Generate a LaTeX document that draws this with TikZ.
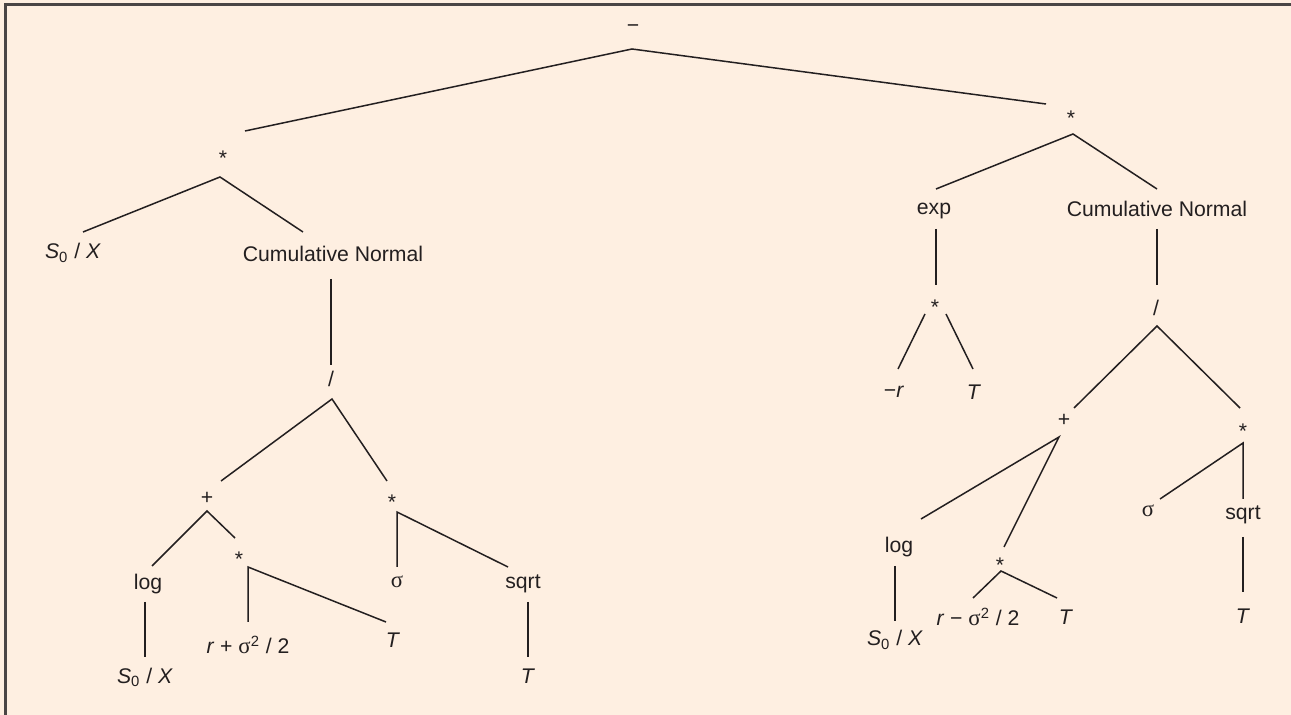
\documentclass[tikz,border=0pt]{standalone}
\usepackage{fontspec}
\setmainfont{Liberation Sans}
\newfontfamily\sigfont{Liberation Serif}
\definecolor{paper}{HTML}{FEEFE1}
\definecolor{ink}{HTML}{231F20}
\definecolor{framecol}{HTML}{4A4545}
\newcommand{\sig}{{\sigfont\fontsize{11.4}{12}\selectfont σ}}
\newcommand{\sox}{\textit{S}\textsubscript{0} / \textit{X}}

\begin{document}
\begin{tikzpicture}[x=0.5pt,y=-0.5pt,
  lbl/.style={anchor=base,inner sep=0pt,text=ink,font=\fontsize{10.6}{12}\selectfont},
  edge/.style={draw=ink,line width=0.75pt}]

% paper and frame rules
\fill[paper] (0,0) rectangle (1291,715);
\useasboundingbox (0,0) rectangle (1291,715);
\draw[framecol,line width=1.1pt] (5.5,715) -- (5.5,4.5) -- (1291,4.5);

% ---------- labels ----------
\node[lbl] (root)  at (633,33)  {−};
\node[lbl] (mulR)  at (1071,126) {*};
\node[lbl] (mulL)  at (223,166) {*};
% left subtree
\node[lbl] (s0xL)  at (73,259)  {\sox};
\node[lbl] (cnL)   at (333,262) {Cumulative Normal};
\node[lbl] (divL)  at (331,387) {/};
\node[lbl] (plusL) at (207,505) {+};
\node[lbl] (mulL2) at (392,510) {*};
\node[lbl] (mulL3) at (239,567) {*};
\node[lbl] (logL)  at (148,590) {log};
\node[lbl] (sigL)  at (397,588) {\sig};
\node[lbl] (sqrtL) at (523,589) {sqrt};
\node[lbl] (rpL)   at (248,654) {\textit{r} + \sig\textsuperscript{2} / 2};
\node[lbl] (tL1)   at (393,648) {\textit{T}};
\node[lbl] (tL2)   at (528,683) {\textit{T}};
\node[lbl] (s0xL2) at (145,683) {\sox};
% right subtree
\node[lbl] (expR)  at (934,215)  {exp};
\node[lbl] (cnR)   at (1157,217) {Cumulative Normal};
\node[lbl] (mulR2) at (935,315)  {*};
\node[lbl] (divR)  at (1156,316) {/};
\node[lbl] (negr)  at (894,398)  {−\textit{r}};
\node[lbl] (tR1)   at (974,400)  {\textit{T}};
\node[lbl] (plusR) at (1064,427) {+};
\node[lbl] (mulR3) at (1243,439) {*};
\node[lbl] (logR)  at (899,553)  {log};
\node[lbl] (mulR4) at (1000,573) {*};
\node[lbl] (sigR)  at (1148,517) {\sig};
\node[lbl] (sqrtR) at (1243,520) {sqrt};
\node[lbl] (rmR)   at (978,626)  {\textit{r} − \sig\textsuperscript{2} / 2};
\node[lbl] (tR2)   at (1066,625) {\textit{T}};
\node[lbl] (tR3)   at (1243,624) {\textit{T}};
\node[lbl] (s0xR)  at (895,646)  {\sox};

% ---------- connector ends ----------
\coordinate (root-dn)  at (632,49);
\coordinate (mulL-up)  at (245,131);
\coordinate (mulR-up)  at (1046,104);
\coordinate (mulL-dn)  at (220,177);
\coordinate (s0xL-up)  at (83,232);
\coordinate (cnL-up)   at (303,232);
\coordinate (cnL-dn)   at (331,279);
\coordinate (divL-up)  at (331,365);
\coordinate (divL-dn)  at (332,399);
\coordinate (plusL-up) at (221,481);
\coordinate (mulL2-up) at (387,481);
\coordinate (plusL-dn) at (207,511);
\coordinate (logL-up)  at (152,566);
\coordinate (mulL3-up) at (235,538);
\coordinate (mulL3-dn) at (248,567);
\coordinate (rpL-up)   at (248,622);
\coordinate (tL1-up)   at (386,622);
\coordinate (mulL2-dn) at (397,512);
\coordinate (sigL-up)  at (397,567);
\coordinate (sqrtL-up) at (508,567);
\coordinate (sqrtL-dn) at (528,602);
\coordinate (tL2-up)   at (528,657);
\coordinate (logL-dn)  at (145,602);
\coordinate (s0xL2-up) at (145,657);
\coordinate (mulR-dn)  at (1073,134);
\coordinate (expR-up)  at (936,189);
\coordinate (cnR-up)   at (1157,189);
\coordinate (expR-dn)  at (936,229);
\coordinate (mulR2-up) at (936,285);
\coordinate (cnR-dn)   at (1157,229);
\coordinate (divR-up)  at (1157,285);
\coordinate (mulR2-dnl) at (925,314);
\coordinate (negr-up)  at (898,369);
\coordinate (mulR2-dnr) at (946,314);
\coordinate (tR1-up)   at (973,369);
\coordinate (divR-dn)  at (1157,326);
\coordinate (plusR-up) at (1074,408);
\coordinate (mulR3-up) at (1240,408);
\coordinate (plusR-dn) at (1059,437);
\coordinate (logR-up)  at (921,519);
\coordinate (mulR4-up) at (1004,547);
\coordinate (logR-dn)  at (895,566);
\coordinate (s0xR-up)  at (895,621);
\coordinate (mulR4-dn) at (1001,571);
\coordinate (rmR-up)   at (973,598);
\coordinate (tR2-up)   at (1057,598);
\coordinate (mulR3-dn) at (1243,443);
\coordinate (sigR-up)  at (1160,499);
\coordinate (sqrtR-up) at (1243,499);
\coordinate (sqrtR-dn) at (1243,537);
\coordinate (tR3-up)   at (1243,592);

% ---------- connectors ----------
\draw[edge] (mulL-up) -- (root-dn) -- (mulR-up);
\draw[edge] (s0xL-up) -- (mulL-dn) -- (cnL-up);
\draw[edge] (cnL-dn) -- (divL-up);
\draw[edge] (plusL-up) -- (divL-dn) -- (mulL2-up);
\draw[edge] (logL-up) -- (plusL-dn) -- (mulL3-up);
\draw[edge] (rpL-up) -- (mulL3-dn) -- (tL1-up);
\draw[edge] (sigL-up) -- (mulL2-dn) -- (sqrtL-up);
\draw[edge] (sqrtL-dn) -- (tL2-up);
\draw[edge] (logL-dn) -- (s0xL2-up);
\draw[edge] (expR-up) -- (mulR-dn) -- (cnR-up);
\draw[edge] (expR-dn) -- (mulR2-up);
\draw[edge] (cnR-dn) -- (divR-up);
\draw[edge] (mulR2-dnl) -- (negr-up);
\draw[edge] (mulR2-dnr) -- (tR1-up);
\draw[edge] (plusR-up) -- (divR-dn) -- (mulR3-up);
\draw[edge] (logR-up) -- (plusR-dn) -- (mulR4-up);
\draw[edge] (logR-dn) -- (s0xR-up);
\draw[edge] (rmR-up) -- (mulR4-dn) -- (tR2-up);
\draw[edge] (sigR-up) -- (mulR3-dn) -- (sqrtR-up);
\draw[edge] (sqrtR-dn) -- (tR3-up);
\end{tikzpicture}
\end{document}
